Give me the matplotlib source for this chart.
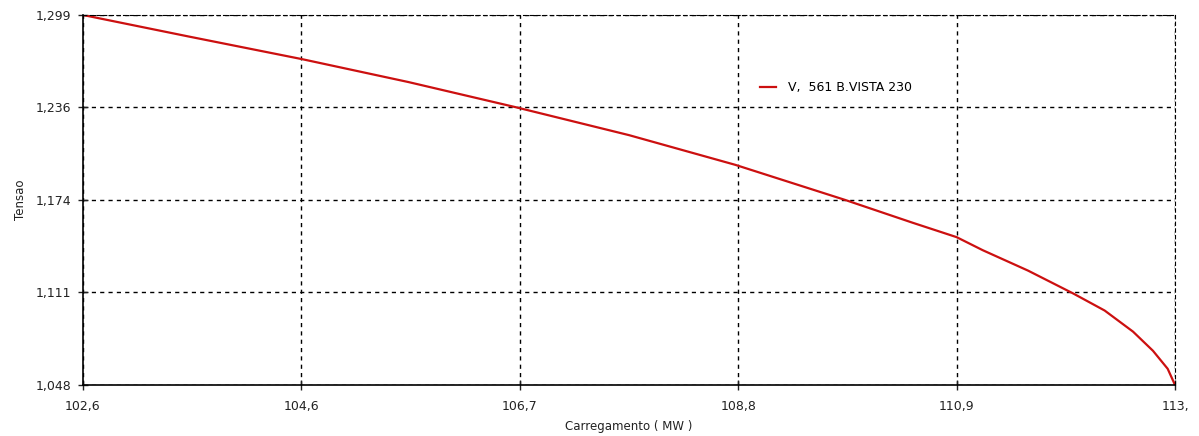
import numpy as np
import matplotlib
matplotlib.use("Agg")
import matplotlib.pyplot as plt

plt.rcParams['font.family'] = ['DejaVu Sans']

# curva PV - barra 561 B.VISTA 230
carga = [102.6, 103.6, 104.69, 105.7, 106.73, 107.8, 108.81, 109.86,
         110.5, 110.92, 111.17, 111.6, 112.03, 112.33, 112.6, 112.79,
         112.93, 113.0]
tensao = [1.299, 1.2845, 1.269, 1.2535, 1.2363, 1.2175, 1.1974, 1.1735,
          1.1581, 1.1483, 1.1394, 1.1256, 1.1101, 1.0985, 1.0842, 1.0712,
          1.0590, 1.0480]

xticks = [102.6, 104.68, 106.76, 108.84, 110.92, 113.0]
xlabels = ['102,6', '104,6', '106,7', '108,8', '110,9', '113,']
yticks = [1.048, 1.11075, 1.1735, 1.23625, 1.299]
ylabels = ['1,048', '1,111', '1,174', '1,236', '1,299']

fig = plt.figure(figsize=(11.99, 4.36), dpi=100)
ax = fig.add_axes([0.0692, 0.117, 0.9108, 0.8486])

ax.plot(carga, tensao, color='#cc1010', lw=1.6, label='V,  561 B.VISTA 230')

ax.set_xlim(102.6, 113.0)
ax.set_ylim(1.048, 1.299)
ax.set_xticks(xticks)
ax.set_xticklabels(xlabels)
ax.set_yticks(yticks)
ax.set_yticklabels(ylabels)
ax.tick_params(direction='inout', length=7, width=1, labelsize=9, colors='#222222')
ax.tick_params(axis='x', pad=7)
ax.tick_params(axis='y', pad=5)

ax.grid(True, color='black', ls=(0, (3, 3)), lw=1)
for s in ['top', 'right']:
    ax.spines[s].set_linestyle((0, (3, 3)))
ax.spines['left'].set_linewidth(1.2)
ax.spines['bottom'].set_linewidth(1.2)

ax.set_xlabel('Carregamento ( MW )', fontsize=8.5, labelpad=5, color='#222222')
ax.set_ylabel('Tensao', fontsize=8.5, labelpad=6, color='#222222')

ax.legend(loc='center left', bbox_to_anchor=(0.615, 0.803), frameon=False,
          fontsize=9, handlelength=1.3, handletextpad=1.0, borderaxespad=0)

fig.savefig('out.png', dpi=100)
